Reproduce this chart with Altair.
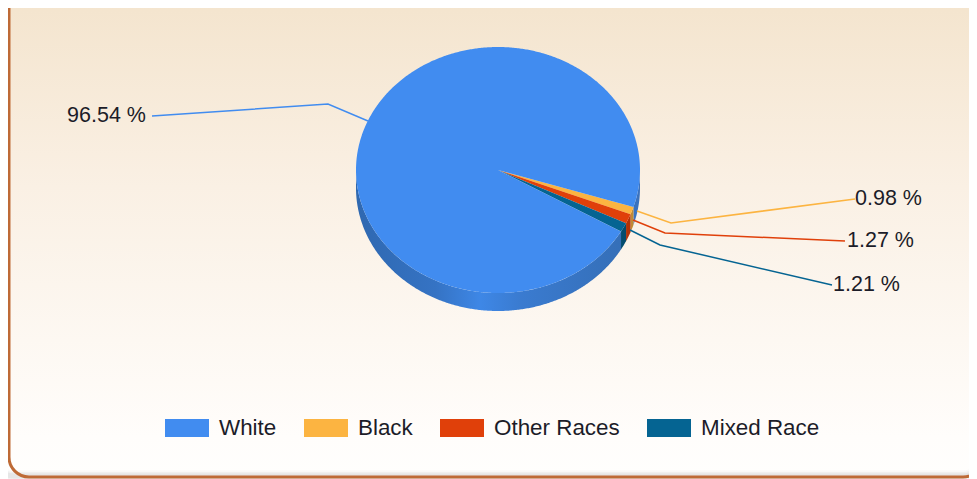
import numpy as np
import pandas as pd
import altair as alt

# --- data ---
races = ["White", "Black", "Other Races", "Mixed Race"]
shares = [96.54, 0.98, 1.27, 1.21]
labels = ["96.54 %", "0.98 %", "1.27 %", "1.21 %"]
colors = ["#418CF0", "#FCB441", "#E0400A", "#056492"]
side_colors = ["#3A72BE", "#C08A35", "#B23208", "#044C6E"]

# --- layout (page pixels; the page margin is taken off below) ---
M = 8
W, H = 961, 471
CX, CY, RX, RY, DEPTH = 498, 170, 142, 123, 18
FIRST_ANGLE = 17.5
label_anchor = {"White": (152, 116), "Black": (855, 199), "Other Races": (845, 241), "Mixed Race": (832, 285)}
elbow = {"White": (328, 104), "Black": (671, 223), "Other Races": (665, 233), "Mixed Race": (660, 245)}
rim_point = {"White": (368, 121), "Black": (637, 211), "Other Races": (633, 220), "Mixed Race": (630, 230)}
label_x = {"White": 146, "Black": 855, "Other Races": 847, "Mixed Race": 833}

x_enc = dict(scale=alt.Scale(domain=[0, W], range=[0, W]), axis=None)
y_enc = dict(scale=alt.Scale(domain=[0, H], range=[0, H]), axis=None)


def rim(t, dy=0.0):
    r = np.radians(t)
    return CX - M + RX * np.cos(r), CY - M + RY * np.sin(r) + dy


# slice angles follow the shares, clockwise on the screen
order = ["Black", "Other Races", "Mixed Race", "White"]
value = dict(zip(races, shares))
spans, a = {}, FIRST_ANGLE
for name in order:
    spans[name] = (a, a + value[name] * 3.6)
    a += value[name] * 3.6

top_rows = []
for name in order:
    a0, a1 = spans[name]
    ts = np.linspace(a0, a1, max(6, int((a1 - a0) * 2)))
    pts = [(CX - M, CY - M)] + [rim(t) for t in ts]
    for i, (x, y) in enumerate(pts):
        top_rows.append({"race": name, "i": i, "x": float(x), "y": float(y)})
top_df = pd.DataFrame(top_rows)


def side_polygon(a0, a1, group):
    ts = np.linspace(a0, a1, max(6, int((a1 - a0) * 2)))
    upper = [rim(t) for t in ts]
    lower = [rim(t, DEPTH) for t in ts[::-1]]
    return [{"g": group, "i": i, "x": float(x), "y": float(y)} for i, (x, y) in enumerate(upper + lower)]


chart_base = alt.Chart(pd.DataFrame({"a": [0]}))


def rect_layer(**mk):
    return chart_base.mark_rect(cornerRadius=20, **mk).encode(
        x=alt.value(1), x2=alt.value(975), y=alt.value(-30), y2=alt.value(469)
    )


panel = rect_layer(
    fill=alt.Gradient(
        gradient="linear", x1=0, x2=0, y1=0, y2=1,
        stops=[
            alt.GradientStop(color="#F3E3CB", offset=0),
            alt.GradientStop(color="#FAF0E4", offset=0.42),
            alt.GradientStop(color="#FFFDFB", offset=0.92),
            alt.GradientStop(color="#FFFEFD", offset=1),
        ],
    )
)
# soft shadow above the bottom border
shade = [
    chart_base.mark_rect(cornerRadius=20, fill="transparent", stroke="#555555", strokeWidth=w, strokeOpacity=op).encode(
        x=alt.value(-14), x2=alt.value(975), y=alt.value(-30), y2=alt.value(469 - 1)
    )
    for w, op in [(11, 0.03), (8, 0.05), (5, 0.07)]
]
border = rect_layer(fill="transparent", stroke="#BE6A36", strokeWidth=3)

front_grad = alt.Gradient(
    gradient="linear", x1=0, x2=1, y1=0, y2=0,
    stops=[
        alt.GradientStop(color="#2F68B0", offset=0),
        alt.GradientStop(color="#3573C4", offset=0.3),
        alt.GradientStop(color="#3E87E6", offset=0.47),
        alt.GradientStop(color="#3A7BD0", offset=0.62),
        alt.GradientStop(color="#356FB8", offset=1),
    ],
)

def poly(df, **mk):
    return alt.Chart(df).mark_line(strokeWidth=0, **mk).encode(
        x=alt.X("x:Q", **x_enc), y=alt.Y("y:Q", **y_enc), order=alt.Order("i:Q")
    )

white_a0 = spans["White"][0]
white_end = spans["White"][1] - 360
sides = [
    poly(pd.DataFrame(side_polygon(white_a0, 180, "front")), fill=front_grad),
    poly(pd.DataFrame(side_polygon(0, white_end, "right")), fill=side_colors[0]),
]
for name, col in zip(races[1:], side_colors[1:]):
    sides.append(poly(pd.DataFrame(side_polygon(*spans[name], name)), fill=col))

slices = alt.Chart(top_df).mark_line(strokeWidth=0).encode(
    x=alt.X("x:Q", **x_enc),
    y=alt.Y("y:Q", **y_enc),
    order=alt.Order("i:Q"),
    detail="race:N",
    fill=alt.Fill(
        "race:N",
        scale=alt.Scale(domain=races, range=colors),
        legend=alt.Legend(
            title=None, orient="none", legendX=165 - M, legendY=428 - M - 22, direction="horizontal",
            columns=4, gridAlign="none", columnPadding=27, padding=0,
            symbolType="M-1,-0.41H1V0.41H-1Z", symbolSize=1936, symbolStrokeWidth=0,
            symbolOpacity=1, labelFont="Liberation Sans", labelFontSize=22.4, labelColor="#1C1C28",
            labelOffset=10, labelLimit=300, rowPadding=0,
        ),
    ),
)

leader_rows = []
for name in races:
    for i, p in enumerate([label_anchor[name], elbow[name], rim_point[name]]):
        leader_rows.append({"race": name, "i": i, "x": p[0] - M, "y": p[1] - M})
leaders = alt.Chart(pd.DataFrame(leader_rows)).mark_line(strokeWidth=1.5).encode(
    x=alt.X("x:Q", **x_enc),
    y=alt.Y("y:Q", **y_enc),
    order=alt.Order("i:Q"),
    detail="race:N",
    stroke=alt.Stroke("race:N", scale=alt.Scale(domain=races, range=colors), legend=None),
)

text_df = pd.DataFrame({
    "race": races,
    "label": labels,
    "x": [label_x[r] - M for r in races],
    "y": [label_anchor[r][1] - M for r in races],
    "al": ["right", "left", "left", "left"],
})
texts = [
    alt.Chart(text_df[text_df.al == al]).mark_text(
        align=al, baseline="middle", font="Liberation Sans", fontSize=21.5, color="#1C1C28"
    ).encode(x=alt.X("x:Q", **x_enc), y=alt.Y("y:Q", **y_enc), text="label:N")
    for al in ["left", "right"]
]

chart = alt.layer(panel, *shade, border, *sides, slices, leaders, *texts).resolve_scale(
    fill="independent"
).properties(
    width=W, height=H, padding=0, autosize=alt.AutoSizeParams(type="none"), background="white"
).configure_view(strokeWidth=0)

chart.save("out.html", embed_options={"renderer": "svg", "actions": False})
